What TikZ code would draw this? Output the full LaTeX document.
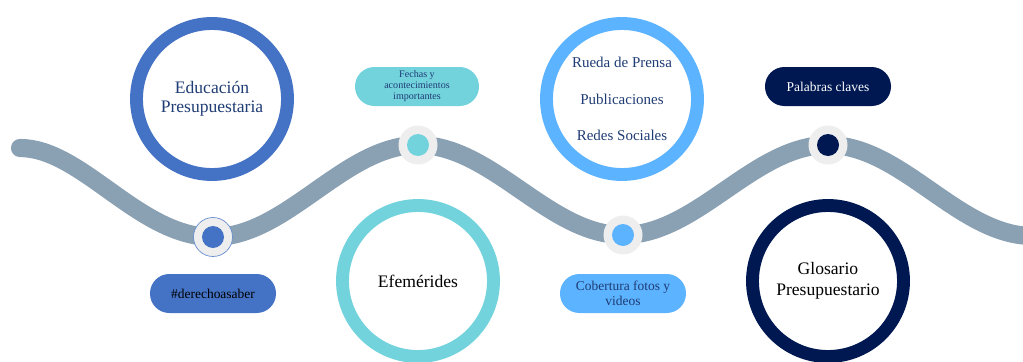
\documentclass[tikz,border=0pt]{standalone}
\usepackage{fontspec}
\setmainfont{Liberation Serif}
\usepackage{tikz}
\usetikzlibrary{positioning}
\definecolor{wavegray}{HTML}{8AA0B3}
\definecolor{markgray}{HTML}{EEEEEE}
\definecolor{edublue}{HTML}{4472C4}
\definecolor{efecyan}{HTML}{72D3DD}
\definecolor{prensablue}{HTML}{5CB3FF}
\definecolor{glosnavy}{HTML}{001852}
\definecolor{textblue}{HTML}{1F3C74}
\tikzstyle{wave}=[draw=wavegray,line width=15.5pt,line cap=round]
\tikzstyle{ring}=[circle,draw,line width=11pt,minimum size=4.53cm,inner sep=0pt,align=center,font=\fontsize{15}{16.6}\selectfont]
\tikzstyle{marker}=[circle,fill=markgray,minimum size=1.17cm,inner sep=0pt]
\tikzstyle{dot}=[circle,minimum size=0.66cm,inner sep=0pt]
\tikzstyle{pill}=[rectangle,rounded corners=0.58cm,minimum width=3.78cm,minimum height=1.17cm,inner sep=2pt,align=center,font=\fontsize{11.5}{12.8}\selectfont]

\begin{document}
\begin{tikzpicture}[x=0.03cm,y=-0.03cm]
  \useasboundingbox (0,0) rectangle (1023,362);
  \clip (0,0) rectangle (1023,362);

  \coordinate (start) at (20,148);
  \coordinate (p1) at (213,237);
  \coordinate (p2) at (418,145);
  \coordinate (p3) at (623,235);
  \coordinate (p4) at (828,145);
  \coordinate (stop) at (1033,236);

  \draw[wave] (start) .. controls +(62,0) and +(-74,0) .. (p1)
    .. controls +(74,0) and +(-74,0) .. (p2)
    .. controls +(74,0) and +(-74,0) .. (p3)
    .. controls +(74,0) and +(-74,0) .. (p4)
    .. controls +(74,0) and +(-74,0) .. (stop);

  \node[marker, draw=edublue!80, line width=0.6pt] (m1) at (p1) {};
  \node[dot, fill=edublue] (d1) at (p1) {};
  \node[marker] (m2) at (p2) {};
  \node[dot, fill=efecyan] (d2) at (p2) {};
  \node[marker] (m3) at (p3) {};
  \node[dot, fill=prensablue] (d3) at (p3) {};
  \node[marker] (m4) at (p4) {};
  \node[dot, fill=glosnavy] (d4) at (p4) {};

  \node[ring, draw=edublue, text=textblue] (edu) at (212,99) {Educación\\Presupuestaria};
  \node[ring, draw=efecyan] (efe) at (418,281) {Efemérides};
  \node[ring, draw=prensablue, text=textblue, font=\fontsize{12.8}{31}\selectfont] (prensa) at (622,99) {Rueda de Prensa\\Publicaciones\\Redes Sociales};
  \node[ring, draw=glosnavy, font=\fontsize{15}{17.6}\selectfont] (glos) at (828,281) {Glosario\\Presupuestario};

  \node[pill, fill=edublue] (hashtag) at (213,293.5) {\#derechoasaber};
  \node[pill, fill=efecyan, text=textblue, minimum width=3.72cm, font=\fontsize{8.6}{9.4}\selectfont] (fechas) at (417,86.5) {Fechas y\\acontecimientos\\importantes};
  \node[pill, fill=prensablue, text=textblue] (cobertura) at (623,293.5) {Cobertura fotos y\\videos};
  \node[pill, fill=glosnavy, text=white] (palabras) at (828,86.5) {Palabras claves};
\end{tikzpicture}
\end{document}
